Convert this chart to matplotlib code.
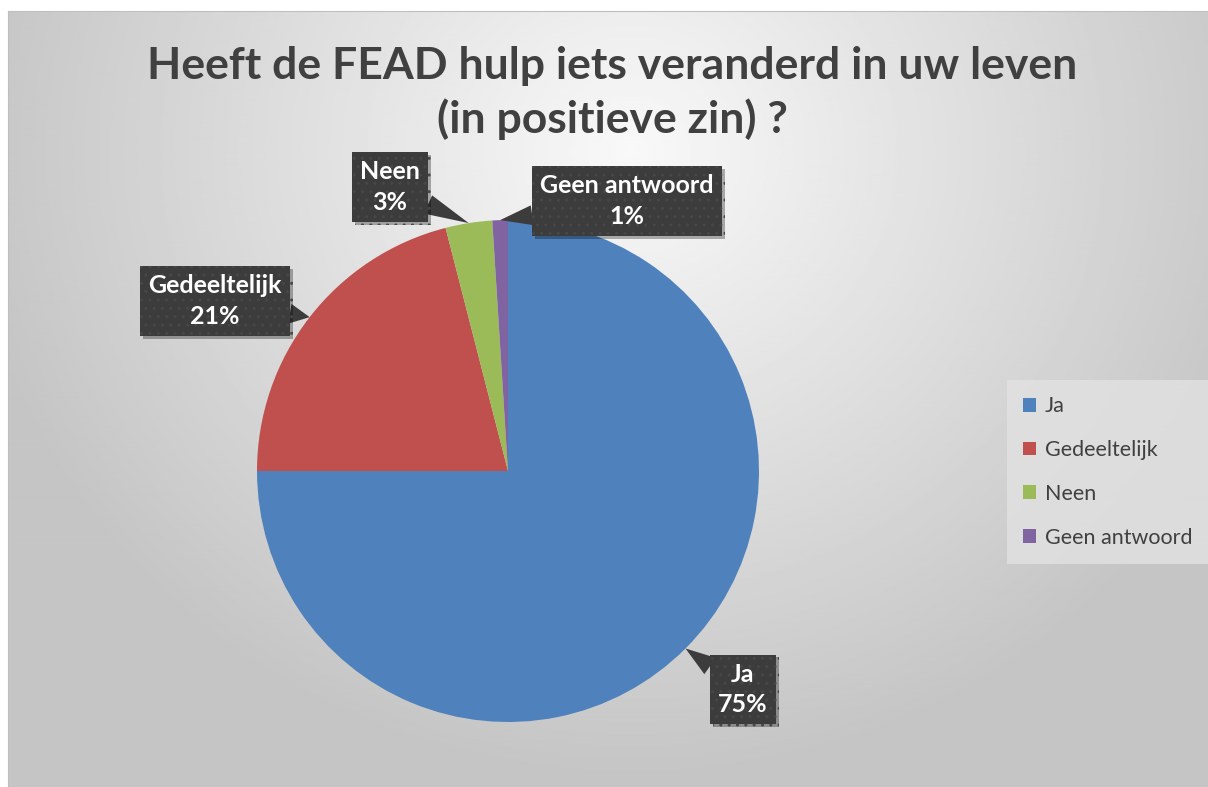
import matplotlib.pyplot as plt
import matplotlib.patheffects as pe
import numpy as np

plt.rcParams['font.family'] = ['Lato', 'DejaVu Sans']

# data
categories = ['Ja', 'Gedeeltelijk', 'Neen', 'Geen antwoord']
shares = [75, 21, 3, 1]
colors = ['#4F81BD', '#C0504D', '#9BBB59', '#8064A2']
title = 'Heeft de FEAD hulp iets veranderd in uw leven\n(in positieve zin) ?'

# label box offsets in pie radius units (layout only)
label_pos = {
    'Ja': (0.936, -0.870),
    'Gedeeltelijk': (-1.167, 0.677),
    'Neen': (-0.470, 1.131),
    'Geen antwoord': (0.474, 1.076),
}

W, H = 1208, 787
fig = plt.figure(figsize=(W / 100, H / 100), dpi=100)
fig.patch.set_facecolor('white')

# chart area with radial gradient background
bg = fig.add_axes([8 / W, 0, 1 - 8 / W, (H - 11) / H])
yy, xx = np.mgrid[0:1:400j, 0:1:600j]
dist = np.sqrt(((xx - 0.52) * 1.3) ** 2 + ((yy - 0.18) * 0.9) ** 2)
shade = np.clip(0.975 - 0.28 * dist, 0.77, 0.975)
bg.imshow(shade, cmap='gray', vmin=0, vmax=1, aspect='auto', extent=[0, 1, 1, 0])
bg.set_xticks([])
bg.set_yticks([])
for s in bg.spines.values():
    s.set_visible(False)
bg.spines['top'].set_visible(True)
bg.spines['left'].set_visible(True)
bg.spines['top'].set_color('#bfbfbf')
bg.spines['left'].set_color('#bfbfbf')

# pie
cx, cy, r = 508, 471, 251
ax = fig.add_axes([(cx - r) / W, (H - cy - r) / H, 2 * r / W, 2 * r / H])
wedges, _ = ax.pie(shares, colors=colors, startangle=90, counterclock=False,
                   radius=1.0, wedgeprops=dict(linewidth=0))
ax.set_xlim(-1, 1)
ax.set_ylim(-1, 1)
ax.set_aspect('equal')
ax.axis('off')

box_color = '#3c3c3c'
for w, cat, val in zip(wedges, categories, shares):
    mid = np.deg2rad((w.theta1 + w.theta2) / 2)
    tip = (np.cos(mid), np.sin(mid))
    ann = ax.annotate(f'{cat}\n{val}%', xy=tip, xytext=label_pos[cat],
                      ha='center', va='center', fontsize=18, fontweight='bold',
                      color='white', linespacing=1.4, annotation_clip=False,
                      bbox=dict(boxstyle='square,pad=0.32', fc=box_color,
                                ec='#474747', lw=0, hatch='..'),
                      arrowprops=dict(arrowstyle='wedge,tail_width=0.8,shrink_factor=0.5',
                                      fc=box_color, ec='none', shrinkA=0, shrinkB=0))
    ann.get_bbox_patch().set_path_effects([
        pe.SimplePatchShadow(offset=(2, -2), shadow_rgbFace='black', alpha=0.3),
        pe.Normal()])

fig.text(612 / W, 1 - 93 / H, title, ha='center', va='center', fontsize=32,
         fontweight='bold', color='#404040', linespacing=1.38)

leg = fig.legend(wedges, categories, loc='center left',
                 bbox_to_anchor=(1007 / W, 1 - 472 / H), fontsize=15.5,
                 frameon=True, fancybox=False, handlelength=0.6, handleheight=0.6,
                 handletextpad=0.4, labelspacing=1.1, borderpad=0.75,
                 borderaxespad=0, labelcolor='#404040')
leg.get_frame().set_facecolor('#e2e2e2')
leg.get_frame().set_edgecolor('none')
leg.get_frame().set_alpha(0.8)

fig.savefig('out.png', dpi=100)
